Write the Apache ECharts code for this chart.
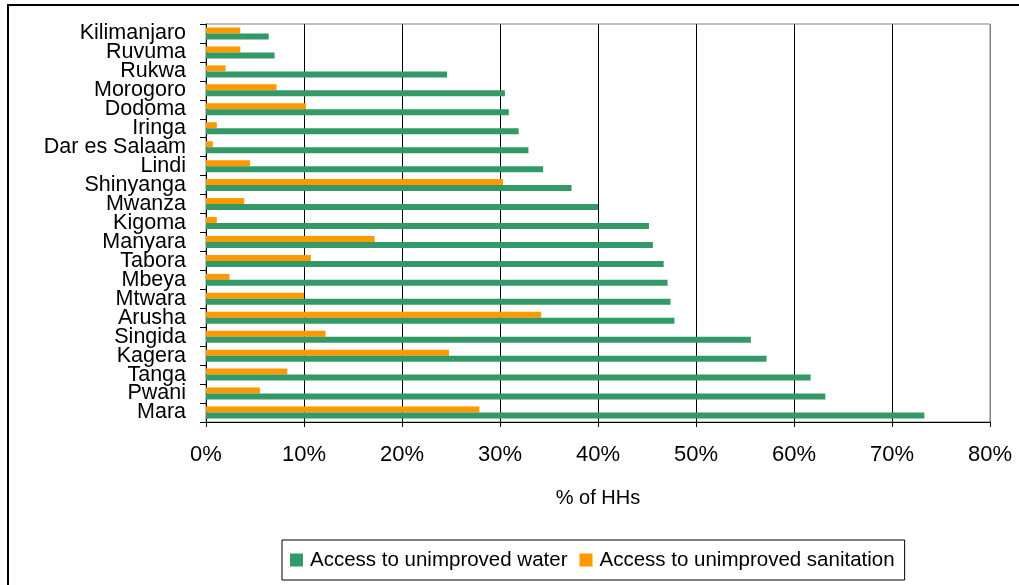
<!DOCTYPE html>
<html>
<head>
<meta charset="utf-8">
<script src="https://cdn.jsdelivr.net/npm/echarts@6/dist/echarts.min.js"></script>
<style>
html,body{margin:0;padding:0;background:#fff;}
#chart{width:1019px;height:585px;}
</style>
</head>
<body>
<div id="chart"></div>
<script>
const regions = ["Kilimanjaro","Ruvuma","Rukwa","Morogoro","Dodoma","Iringa","Dar es Salaam","Lindi","Shinyanga","Mwanza","Kigoma","Manyara","Tabora","Mbeya","Mtwara","Arusha","Singida","Kagera","Tanga","Pwani","Mara"];
const unimprovedWater = [6.4,7.0,24.6,30.5,30.9,31.9,32.9,34.4,37.3,40.0,45.2,45.6,46.7,47.1,47.4,47.8,55.6,57.2,61.7,63.2,73.3];
const unimprovedSanitation = [3.5,3.5,2.0,7.2,10.2,1.1,0.7,4.5,30.3,3.9,1.1,17.2,10.7,2.4,10.0,34.2,12.2,24.8,8.3,5.5,27.9];
const xTicks = {min:0, max:80, interval:10};
const seriesNames = ["Access to unimproved water","Access to unimproved sanitation"];

const chart = echarts.init(document.getElementById('chart'), null, {renderer:'canvas'});
const font = "'Liberation Sans', Arial, sans-serif";
chart.setOption({
  animation:false,
  backgroundColor:'#fff',
  graphic:[{
    type:'rect', silent:true, z:-10,
    shape:{x:8, y:5, width:1040, height:620},
    style:{fill:'none', stroke:'#000', lineWidth:2}
  }],
  grid:{left:206, right:29, top:24, bottom:163, show:true, borderColor:'#808080', borderWidth:1, backgroundColor:'#fff'},
  legend:{
    data:seriesNames,
    left:282, top:540,
    orient:'horizontal',
    padding:[9,10,9,8],
    itemGap:12,
    itemWidth:13, itemHeight:13,
    icon:'rect',
    borderColor:'#000', borderWidth:1,
    backgroundColor:'#fff',
    textStyle:{fontFamily:font, fontSize:20.5, color:'#000', lineHeight:22, padding:[0,0,0,2]}
  },
  xAxis:{
    type:'value', min:xTicks.min, max:xTicks.max, interval:xTicks.interval,
    name:'% of HHs', nameLocation:'middle', nameGap:66,
    nameTextStyle:{fontFamily:font, fontSize:20, color:'#000'},
    axisLine:{show:true, lineStyle:{color:'#000', width:1}},
    axisTick:{show:true, length:5, lineStyle:{color:'#000'}},
    axisLabel:{formatter:'{value}%', fontFamily:font, fontSize:22, color:'#000', margin:22},
    splitLine:{show:true, lineStyle:{color:['#000','#000','#000','#000','#000','#000','#000','#000','#808080'], width:1}}
  },
  yAxis:{
    type:'category', data:regions, inverse:true,
    axisLine:{show:true, lineStyle:{color:'#000', width:1}},
    axisTick:{show:true, length:6, alignWithLabel:false, lineStyle:{color:'#000'}},
    axisLabel:{fontFamily:font, fontSize:21.5, color:'#000', margin:20, interval:0},
    splitLine:{show:false}
  },
  series:[
    {name:seriesNames[1], type:'bar', data:unimprovedSanitation, barWidth:6, barGap:'0%', itemStyle:{color:'#FF9900'}},
    {name:seriesNames[0], type:'bar', data:unimprovedWater, barWidth:6, barGap:'0%', itemStyle:{color:'#339966'}}
  ]
});
</script>
</body>
</html>
